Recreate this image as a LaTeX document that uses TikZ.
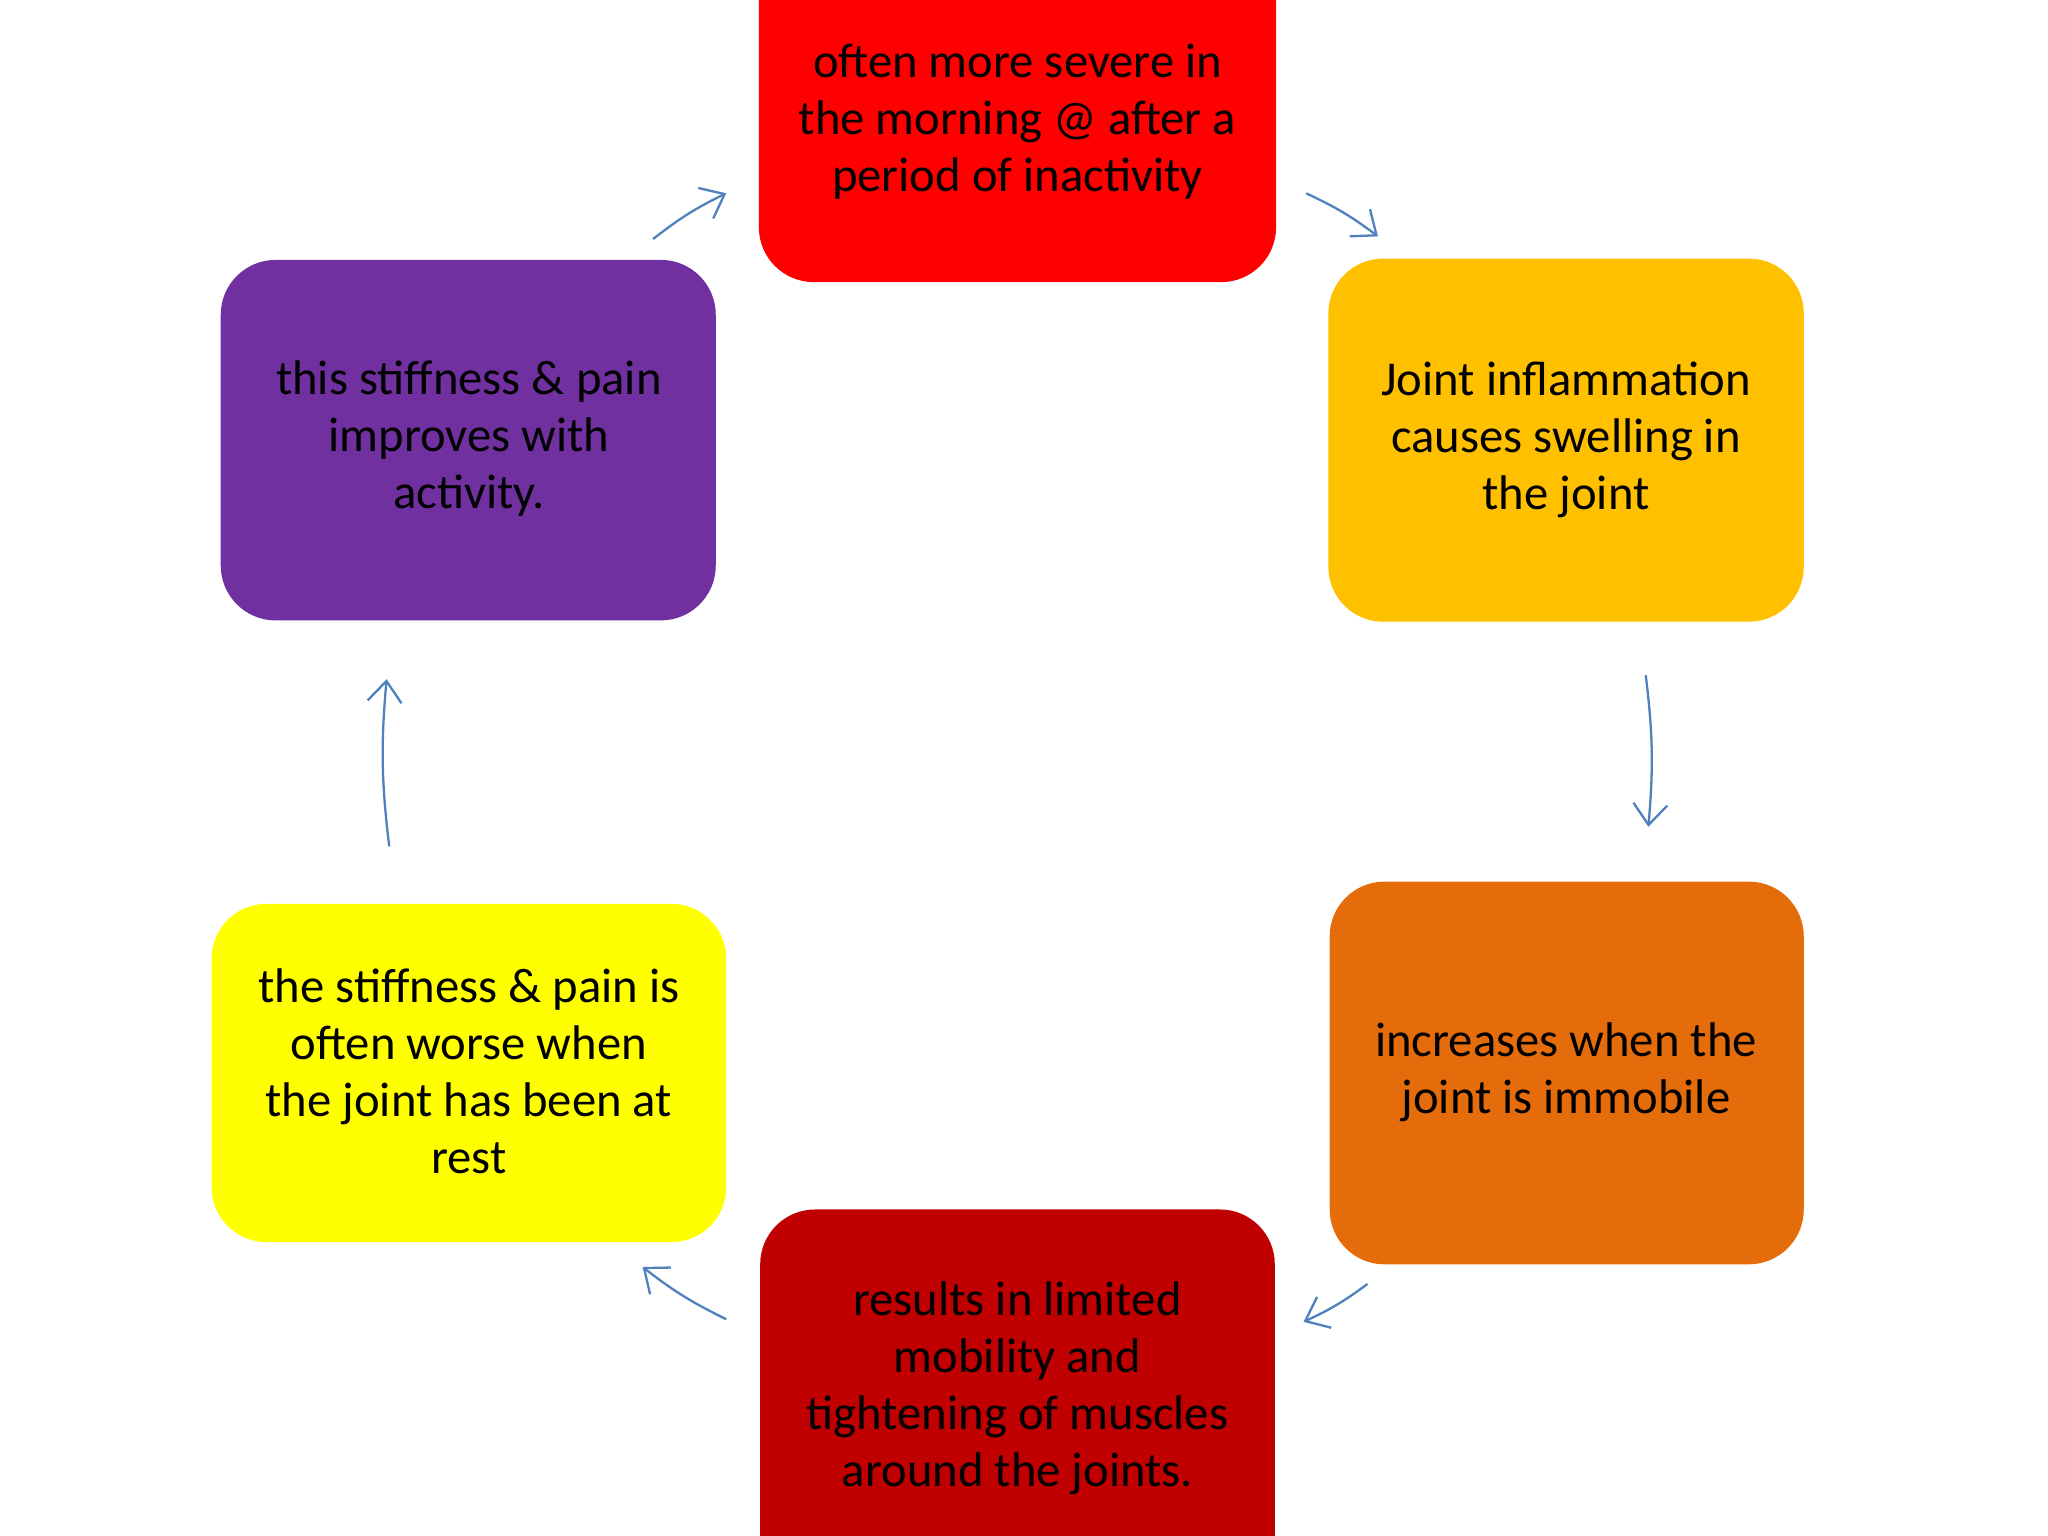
\documentclass[tikz,border=0pt]{standalone}
\usepackage{fontspec}
\setmainfont{Carlito}
\usetikzlibrary{arrows.meta}
\definecolor{cRed}{HTML}{FF0000}
\definecolor{cAmber}{HTML}{FFC000}
\definecolor{cOrange}{HTML}{E46C0A}
\definecolor{cDark}{HTML}{C00000}
\definecolor{cYellow}{HTML}{FFFF00}
\definecolor{cPurple}{HTML}{7030A0}
\definecolor{cArrow}{HTML}{4F81BD}
\tikzset{
  box/.style={draw=none, rounded corners=0.42cm, align=center, text=black,
    font=\fontsize{10.6pt}{12.4pt}\selectfont, inner sep=0pt},
  arr/.style={draw=cArrow, line width=0.5pt, -{Straight Barb[length=1.6mm,width=2.6mm]}}
}
\begin{document}
\begin{tikzpicture}
\useasboundingbox (0,0) rectangle (15.68,-11.76);
\path[clip] (0,0) rectangle (15.68,-11.76);
% boxes
\fill[cRed, rounded corners=0.42cm] (5.81,0.4) rectangle (9.77,-2.16);
\node[box] (top) at (7.79,-0.93) {often more severe in\\the morning @ after a\\period of inactivity};
\fill[cAmber, rounded corners=0.42cm] (10.17,-1.98) rectangle (13.81,-4.76);
\node[box] (tr) at (11.99,-3.37) {Joint inflammation\\causes swelling in\\the joint};
\fill[cOrange, rounded corners=0.42cm] (10.18,-6.75) rectangle (13.81,-9.68);
\node[box] (br) at (11.99,-8.21) {increases when the\\joint is immobile};
\fill[cDark, rounded corners=0.42cm] (5.82,-9.26) rectangle (9.76,-12.2);
\node[box] (bot) at (7.79,-10.63) {results in limited\\mobility and\\tightening of muscles\\around the joints.};
\fill[cYellow, rounded corners=0.42cm] (1.62,-6.92) rectangle (5.56,-9.51);
\node[box] (bl) at (3.59,-8.2) {the stiffness \& pain is\\often worse when\\the joint has been at\\rest};
\fill[cPurple, rounded corners=0.42cm] (1.69,-1.99) rectangle (5.48,-4.75);
\node[box] (tl) at (3.59,-3.36) {this stiffness \& pain\\improves with\\activity.};
% connector ends
\coordinate (a1) at (5.00,-1.83); \coordinate (a2) at (5.56,-1.48);
\coordinate (b1) at (10.00,-1.48); \coordinate (b2) at (10.55,-1.81);
\coordinate (c1) at (12.60,-5.17); \coordinate (c2) at (12.62,-6.33);
\coordinate (d1) at (10.47,-9.83); \coordinate (d2) at (9.98,-10.12);
\coordinate (e1) at (5.56,-10.10); \coordinate (e2) at (4.92,-9.70);
\coordinate (f1) at (2.98,-6.48); \coordinate (f2) at (2.96,-5.20);
\draw[arr] (a1) to[bend left=6] (a2);
\draw[arr] (b1) to[bend left=6] (b2);
\draw[arr] (c1) to[bend left=6] (c2);
\draw[arr] (d1) to[bend left=6] (d2);
\draw[arr] (e1) to[bend left=6] (e2);
\draw[arr] (f1) to[bend left=6] (f2);
\end{tikzpicture}
\end{document}
